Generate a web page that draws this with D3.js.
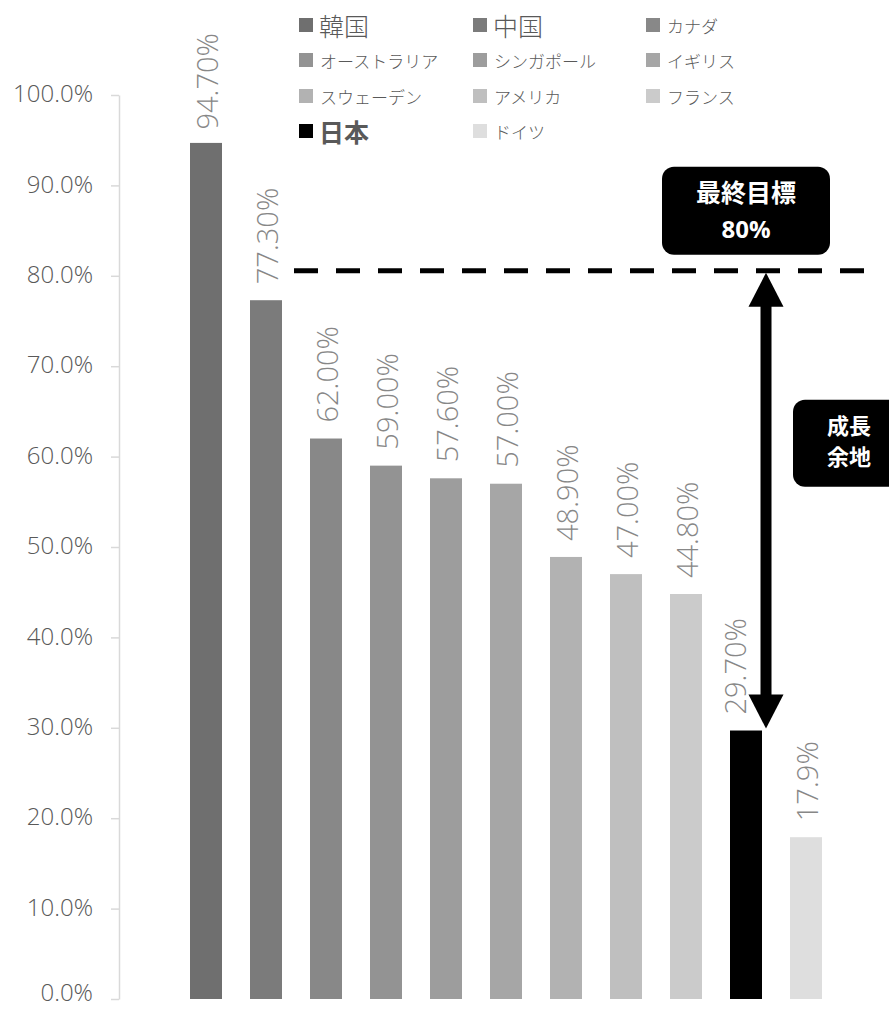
<!DOCTYPE html>
<html>
<head>
<meta charset="utf-8">
<script src="https://cdn.jsdelivr.net/npm/d3@7"></script>
<style>
  body { margin: 0; background: #fff; }
  svg { display: block; }
  .num { font-family: "Open Sans", "Lato", sans-serif; font-weight: 300; }
  .cjk { font-family: "Noto Sans CJK JP", "Noto Sans", sans-serif; }
</style>
</head>
<body>
<div id="chart"></div>
<script>
const countries = ['韓国', '中国', 'カナダ', 'オーストラリア', 'シンガポール', 'イギリス', 'スウェーデン', 'アメリカ', 'フランス', '日本', 'ドイツ'];
const rates = [94.7, 77.3, 62.0, 59.0, 57.6, 57.0, 48.9, 47.0, 44.8, 29.7, 17.9];
const rateLabels = ['94.70%', '77.30%', '62.00%', '59.00%', '57.60%', '57.00%', '48.90%', '47.00%', '44.80%', '29.70%', '17.9%'];
const barColors = ['#6f6f6f', '#7b7b7b', '#888888', '#939393', '#9d9d9d', '#a6a6a6', '#b2b2b2', '#bfbfbf', '#cbcbcb', '#000000', '#dedede'];
const yTicks = [0, 10, 20, 30, 40, 50, 60, 70, 80, 90, 100];
const targetRate = 80;
const targetText = ['最終目標', '80%'];
const gapText = ['成長', '余地'];
const japan = '日本';
const bigLegend = ['韓国', '中国'];

const width = 889, height = 1011;

const svg = d3.select('#chart').append('svg')
    .attr('width', width)
    .attr('height', height);

const x = d3.scaleBand()
    .domain(countries)
    .range([176, 836])
    .paddingInner(28 / 60)
    .paddingOuter(14 / 60);

const y = d3.scaleLinear()
    .domain([0, 100])
    .range([999, 95]);

// y axis
const yAxis = svg.append('g')
    .attr('transform', 'translate(119,0)')
    .call(d3.axisLeft(y)
        .tickValues(yTicks)
        .tickSizeInner(8)
        .tickSizeOuter(0)
        .tickPadding(18)
        .tickFormat(d => d.toFixed(1) + '%'));
yAxis.select('.domain').attr('stroke', '#d9d9d9').attr('stroke-width', 1.5);
yAxis.selectAll('.tick line').attr('stroke', '#d9d9d9').attr('stroke-width', 1.5);
yAxis.selectAll('.tick text')
    .attr('class', 'num')
    .attr('fill', '#595959')
    .attr('dy', d => d === 0 ? '0.08em' : '0.28em')
    .style('font-size', '24px');

// bars
svg.append('g').selectAll('rect')
    .data(countries).enter()
    .append('rect')
    .attr('x', d => x(d))
    .attr('y', (d, i) => y(rates[i]))
    .attr('width', x.bandwidth())
    .attr('height', (d, i) => y(0) - y(rates[i]))
    .attr('fill', (d, i) => barColors[i]);

// rotated value labels
svg.append('g').selectAll('text')
    .data(countries).enter()
    .append('text')
    .attr('class', 'num')
    .style('font-size', '29px')
    .attr('fill', '#878787')
    .attr('dominant-baseline', 'central')
    .text((d, i) => rateLabels[i])
    .each(function(d, i) {
        const len = this.getComputedTextLength();
        let start = y(rates[i]) - 16;
        if (start - len < 33) start = 33 + len;
        const cx = x(d) + x.bandwidth() / 2 + (d === japan ? -12 : 0);
        d3.select(this).attr('transform', `translate(${cx},${start}) rotate(-90)`);
    });

// legend
const legendCols = [299, 473, 646];
const legendRows = [25, 60, 96, 131];
const legend = svg.append('g').selectAll('g')
    .data(countries).enter()
    .append('g')
    .attr('transform', (d, i) => `translate(${legendCols[i % 3]},${legendRows[Math.floor(i / 3)]})`);
legend.append('rect')
    .attr('x', 0).attr('y', -7)
    .attr('width', 14).attr('height', 14)
    .attr('fill', (d, i) => barColors[i]);
legend.append('text')
    .attr('class', 'cjk')
    .attr('x', d => (bigLegend.includes(d) || d === japan) ? 20 : 21)
    .attr('dominant-baseline', 'central')
    .attr('fill', '#595959')
    .style('font-size', d => (bigLegend.includes(d) || d === japan) ? '25px' : '17px')
    .style('font-weight', d => d === japan ? 'bold' : '300')
    .text(d => d);

// target line
const yTarget = y(targetRate) - 5;
svg.append('line')
    .attr('x1', 294).attr('x2', 866)
    .attr('y1', yTarget).attr('y2', yTarget)
    .attr('stroke', '#000')
    .attr('stroke-width', 5)
    .attr('stroke-dasharray', '24,18');

// target box
const jx = x(japan) + x.bandwidth() / 2;
svg.append('rect')
    .attr('x', jx - 84).attr('y', yTarget - 104)
    .attr('width', 168).attr('height', 88)
    .attr('rx', 12)
    .attr('fill', '#000');
svg.append('g').selectAll('text')
    .data(targetText).enter()
    .append('text')
    .attr('class', d => d === '80%' ? 'num' : 'cjk')
    .attr('x', jx)
    .attr('y', (d, i) => yTarget - 80 + i * 38)
    .attr('text-anchor', 'middle')
    .attr('dominant-baseline', 'central')
    .attr('fill', '#fff')
    .style('font-size', (d, i) => i === 0 ? '25px' : '24px')
    .style('font-weight', 'bold')
    .text(d => d);

// arrow between target and Japan
const ax = jx + 20;
const yTop = yTarget + 2;
const yBot = y(rates[countries.indexOf(japan)]) - 2;
const head = 34, half = 17.5;
svg.append('rect')
    .attr('x', ax - 5.5).attr('y', yTop + head - 2)
    .attr('width', 11).attr('height', yBot - yTop - 2 * head + 4)
    .attr('fill', '#000');
svg.append('path')
    .attr('d', `M${ax},${yTop} L${ax + half},${yTop + head} L${ax - half},${yTop + head} Z`)
    .attr('fill', '#000');
svg.append('path')
    .attr('d', `M${ax},${yBot} L${ax + half},${yBot - head} L${ax - half},${yBot - head} Z`)
    .attr('fill', '#000');

// growth room box
const gTop = y(66.3);
svg.append('rect')
    .attr('x', 793).attr('y', gTop)
    .attr('width', 120).attr('height', 87)
    .attr('rx', 12)
    .attr('fill', '#000');
svg.append('g').selectAll('text')
    .data(gapText).enter()
    .append('text')
    .attr('class', 'cjk')
    .attr('x', 849)
    .attr('y', (d, i) => gTop + 24 + i * 31)
    .attr('text-anchor', 'middle')
    .attr('dominant-baseline', 'central')
    .attr('fill', '#fff')
    .style('font-size', '22px')
    .style('font-weight', 'bold')
    .text(d => d);
</script>
</body>
</html>
